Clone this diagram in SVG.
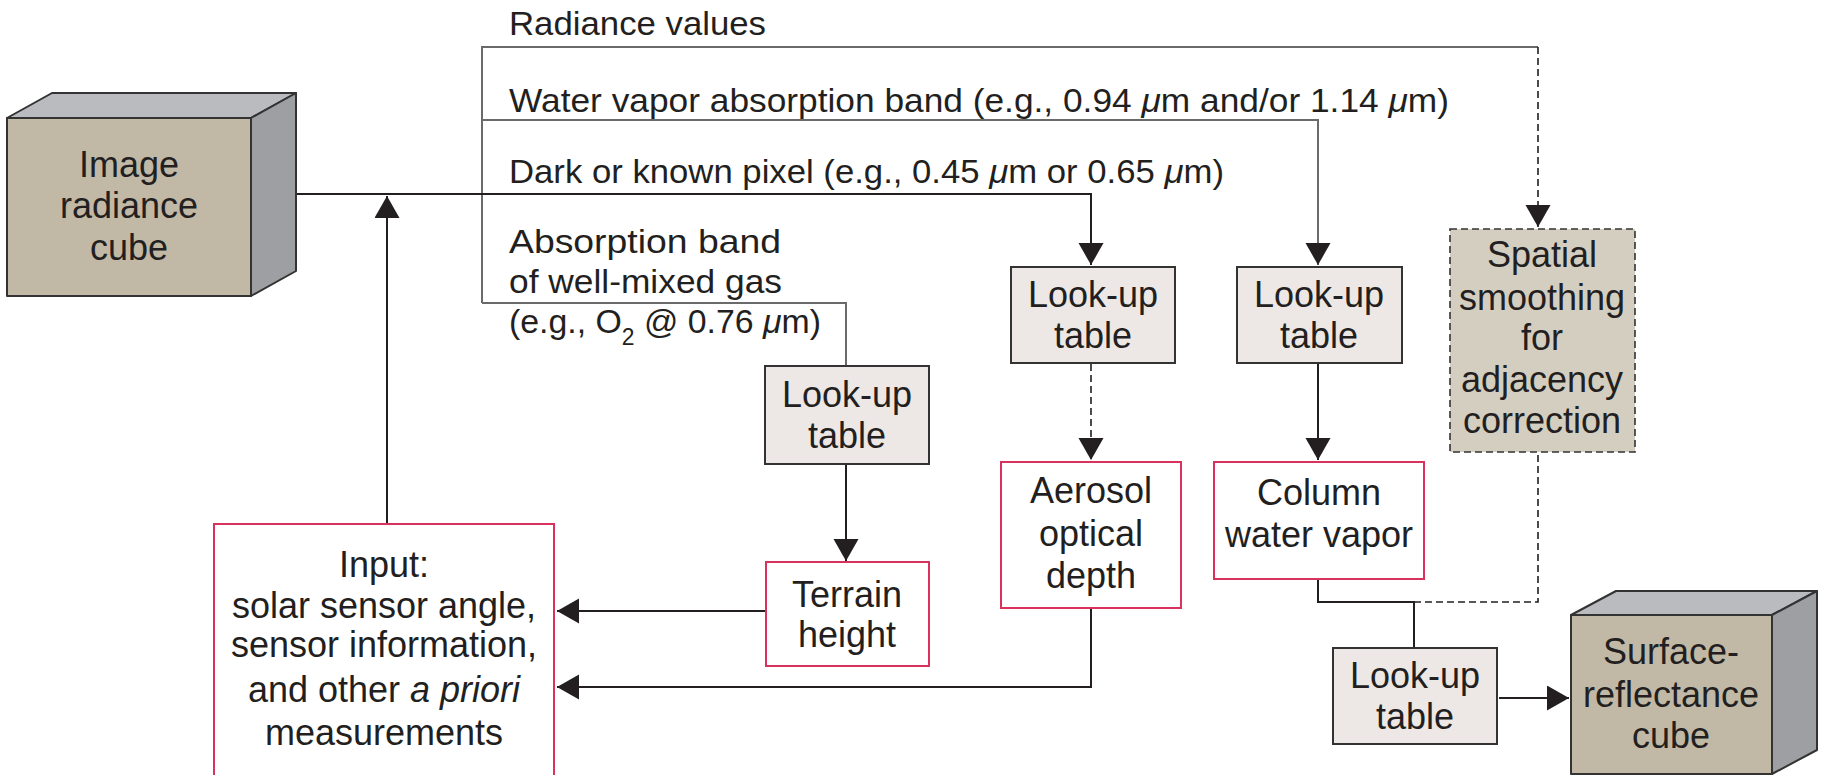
<svg xmlns="http://www.w3.org/2000/svg" width="1825" height="775" viewBox="0 0 1825 775">
  <style>
    text { font-family: "Liberation Sans", Arial, sans-serif; fill: #231f20; }
    .lbl { font-size: 34px; }
    .box { font-size: 36px; text-anchor: middle; }
    .lut { fill: #ede8e5; stroke: #333; stroke-width: 2; }
    .out { fill: #ffffff; stroke: #d9335d; stroke-width: 2; }
    .front { fill: #c1b9a6; stroke: #333; stroke-width: 2; stroke-linejoin: round; }
    .top { fill: #babbbf; stroke: #333; stroke-width: 2; stroke-linejoin: round; }
    .side { fill: #9d9fa3; stroke: #333; stroke-width: 2; stroke-linejoin: round; }
    .ln { fill: none; stroke: #231f20; stroke-width: 2; }
    .gl { fill: none; stroke: #6a6a6a; stroke-width: 2; }
    .dash { fill: none; stroke: #231f20; stroke-width: 1.6; stroke-dasharray: 7 4; }
    .mu { font-style: italic; }
  </style>
  <defs>
    <marker id="arrow" markerUnits="userSpaceOnUse" markerWidth="24" markerHeight="26" refX="22" refY="12.5" orient="auto">
      <path d="M0,0 L22,12.5 L0,25 z" fill="#231f20"/>
    </marker>
  </defs>

  <rect width="1825" height="775" fill="#ffffff"/>

  <!-- connectors -->
  <g id="connectors">
    <!-- radiance values branch -->
    <polyline class="gl" points="482,303 482,47 1538,47"/>
    <line class="dash" x1="1538" y1="47" x2="1538" y2="227" marker-end="url(#arrow)"/>
    <!-- water vapour band branch -->
    <polyline class="gl" points="482,120 1318,120 1318,265" marker-end="url(#arrow)"/>
    <!-- main radiance line to dark-pixel table -->
    <polyline class="ln" points="296,194 1091,194 1091,265" marker-end="url(#arrow)"/>
    <!-- well-mixed gas branch -->
    <polyline class="gl" points="482,303 846,303 846,366"/>
    <!-- tables to products -->
    <line class="ln" x1="846" y1="464" x2="846" y2="561" marker-end="url(#arrow)"/>
    <line class="dash" x1="1091" y1="364" x2="1091" y2="460" marker-end="url(#arrow)"/>
    <line class="ln" x1="1318" y1="364" x2="1318" y2="460" marker-end="url(#arrow)"/>
    <!-- products back to input -->
    <line class="ln" x1="766" y1="611" x2="557" y2="611" marker-end="url(#arrow)"/>
    <polyline class="ln" points="1091,608 1091,687 557,687" marker-end="url(#arrow)"/>
    <!-- input up to main line -->
    <line class="ln" x1="387" y1="524" x2="387" y2="196" marker-end="url(#arrow)"/>
    <!-- column water vapour + smoothing to final table -->
    <polyline class="ln" points="1318,579 1318,602 1414,602 1414,648"/>
    <polyline class="dash" points="1414,602 1538,602 1538,452"/>
    <line class="ln" x1="1499" y1="698" x2="1569" y2="698" marker-end="url(#arrow)"/>
  </g>

  <!-- free labels -->
  <g id="labels">
    <text class="lbl" x="509" y="35" textLength="257" lengthAdjust="spacingAndGlyphs">Radiance values</text>
    <text class="lbl" x="509" y="112" textLength="940" lengthAdjust="spacingAndGlyphs">Water vapor absorption band (e.g., 0.94 <tspan class="mu">μ</tspan>m and/or 1.14 <tspan class="mu">μ</tspan>m)</text>
    <text class="lbl" x="509" y="183" textLength="715" lengthAdjust="spacingAndGlyphs">Dark or known pixel (e.g., 0.45 <tspan class="mu">μ</tspan>m or 0.65 <tspan class="mu">μ</tspan>m)</text>
    <text class="lbl" x="509" y="253" textLength="272" lengthAdjust="spacingAndGlyphs">Absorption band</text>
    <text class="lbl" x="509" y="293" textLength="273" lengthAdjust="spacingAndGlyphs">of well-mixed gas</text>
    <text class="lbl" x="509" y="333" textLength="312" lengthAdjust="spacingAndGlyphs">(e.g., O<tspan font-size="23" dy="12">2</tspan><tspan dy="-12"> @ 0.76 </tspan><tspan class="mu">μ</tspan>m)</text>
  </g>

  <!-- Image radiance cube -->
  <g id="image-radiance-cube">
    <polygon class="top" points="7,118 52,93 296,93 251,118"/>
    <polygon class="side" points="251,118 296,93 296,271 251,296"/>
    <rect class="front" x="7" y="118" width="244" height="178"/>
    <text class="box" x="129" y="177">Image</text>
    <text class="box" x="129" y="218">radiance</text>
    <text class="box" x="129" y="260">cube</text>
  </g>

  <!-- Look-up table: dark pixel -->
  <g id="lut-aerosol">
    <rect class="lut" x="1011" y="267" width="164" height="96"/>
    <text class="box" x="1093" y="307">Look-up</text>
    <text class="box" x="1093" y="348">table</text>
  </g>

  <!-- Look-up table: water vapour -->
  <g id="lut-water">
    <rect class="lut" x="1237" y="267" width="165" height="96"/>
    <text class="box" x="1319" y="307">Look-up</text>
    <text class="box" x="1319" y="348">table</text>
  </g>

  <!-- Spatial smoothing -->
  <g id="spatial-smoothing">
    <rect x="1450" y="229" width="185" height="223" fill="#d4cec1" stroke="#333" stroke-width="1.6" stroke-dasharray="7 4"/>
    <text class="box" x="1542" y="267">Spatial</text>
    <text class="box" x="1542" y="310">smoothing</text>
    <text class="box" x="1542" y="350">for</text>
    <text class="box" x="1542" y="392">adjacency</text>
    <text class="box" x="1542" y="433">correction</text>
  </g>

  <!-- Look-up table: terrain -->
  <g id="lut-terrain">
    <rect class="lut" x="765" y="366" width="164" height="98"/>
    <text class="box" x="847" y="407">Look-up</text>
    <text class="box" x="847" y="448">table</text>
  </g>

  <!-- Terrain height -->
  <g id="terrain-height">
    <rect class="out" x="766" y="562" width="163" height="104"/>
    <text class="box" x="847" y="607">Terrain</text>
    <text class="box" x="847" y="647">height</text>
  </g>

  <!-- Aerosol optical depth -->
  <g id="aerosol-depth">
    <rect class="out" x="1001" y="462" width="180" height="146"/>
    <text class="box" x="1091" y="503">Aerosol</text>
    <text class="box" x="1091" y="546">optical</text>
    <text class="box" x="1091" y="588">depth</text>
  </g>

  <!-- Column water vapour -->
  <g id="column-water-vapor">
    <rect class="out" x="1214" y="462" width="210" height="117"/>
    <text class="box" x="1319" y="505">Column</text>
    <text class="box" x="1319" y="547">water vapor</text>
  </g>

  <!-- Input -->
  <g id="input">
    <rect class="out" x="214" y="524" width="340" height="262"/>
    <text class="box" x="384" y="577">Input:</text>
    <text class="box" x="384" y="618">solar sensor angle,</text>
    <text class="box" x="384" y="657">sensor information,</text>
    <text class="box" x="384" y="702">and other <tspan font-style="italic">a priori</tspan></text>
    <text class="box" x="384" y="745">measurements</text>
  </g>

  <!-- Look-up table: final -->
  <g id="lut-final">
    <rect class="lut" x="1333" y="648" width="164" height="96"/>
    <text class="box" x="1415" y="688">Look-up</text>
    <text class="box" x="1415" y="729">table</text>
  </g>

  <!-- Surface-reflectance cube -->
  <g id="surface-reflectance-cube">
    <polygon class="top" points="1571,615 1616,591 1817,591 1772,615"/>
    <polygon class="side" points="1772,615 1817,591 1817,750 1772,774"/>
    <rect class="front" x="1571" y="615" width="201" height="159"/>
    <text class="box" x="1671" y="664">Surface-</text>
    <text class="box" x="1671" y="707">reflectance</text>
    <text class="box" x="1671" y="748">cube</text>
  </g>
</svg>
